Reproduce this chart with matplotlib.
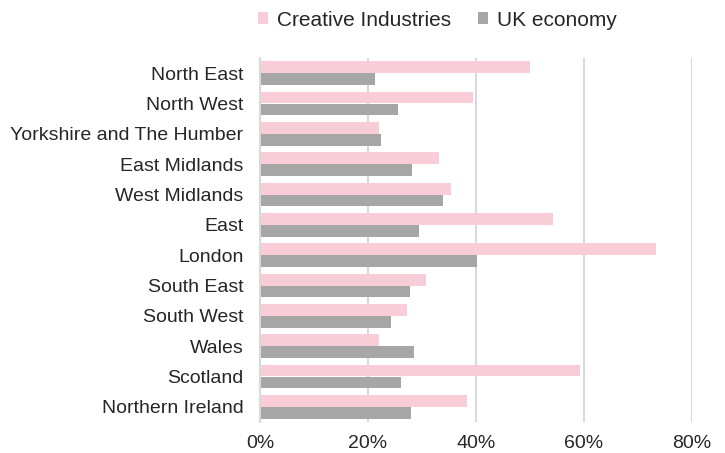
import numpy as np
import matplotlib.pyplot as plt
from matplotlib.ticker import PercentFormatter

plt.rcParams['font.family'] = ['Liberation Sans', 'DejaVu Sans']

regions = ['North East', 'North West', 'Yorkshire and The Humber', 'East Midlands',
           'West Midlands', 'East', 'London', 'South East', 'South West', 'Wales',
           'Scotland', 'Northern Ireland']
creative = [50.0, 39.4, 22.0, 33.2, 35.4, 54.2, 73.3, 30.7, 27.2, 22.0, 59.2, 38.3]
uk_economy = [21.3, 25.6, 22.4, 28.1, 33.9, 29.5, 40.2, 27.7, 24.3, 28.6, 26.1, 28.0]

pink = '#F9CDD7'
grey = '#A6A6A6'
text_col = '#262626'

fig = plt.figure(figsize=(7.25, 4.53), dpi=100)
ax = fig.add_axes([260 / 725, 1 - 422 / 453, 432 / 725, 364 / 453])

y = np.arange(len(regions))
h = 0.385
ax.barh(y - h / 2, creative, height=h, color=pink, label='Creative Industries', zorder=2)
ax.barh(y + h / 2, uk_economy, height=h, color=grey, label='UK economy', zorder=2)

ax.set_xlim(0, 80)
ax.set_ylim(len(regions) - 0.5, -0.5)
ax.set_xticks([0, 20, 40, 60, 80])
ax.xaxis.set_major_formatter(PercentFormatter(decimals=0))
ax.set_yticks(y)
ax.set_yticklabels(regions)
ax.tick_params(axis='both', length=0, labelsize=14, colors=text_col)
ax.tick_params(axis='x', pad=9)
ax.tick_params(axis='y', pad=12)

ax.grid(axis='x', color='#D9D9D9', linewidth=1.5, zorder=0)
for side in ['top', 'right', 'bottom']:
    ax.spines[side].set_visible(False)
ax.spines['left'].set_color('#D9D9D9')
ax.spines['left'].set_linewidth(1.5)

ax.legend(loc='lower left', bbox_to_anchor=(-0.024, 1.055), ncol=2, frameon=False,
          fontsize=15, handlelength=0.5, handleheight=0.5, handletextpad=0.4,
          columnspacing=1.3, labelcolor=text_col, borderaxespad=0)

fig.savefig('out.png', dpi=100)
